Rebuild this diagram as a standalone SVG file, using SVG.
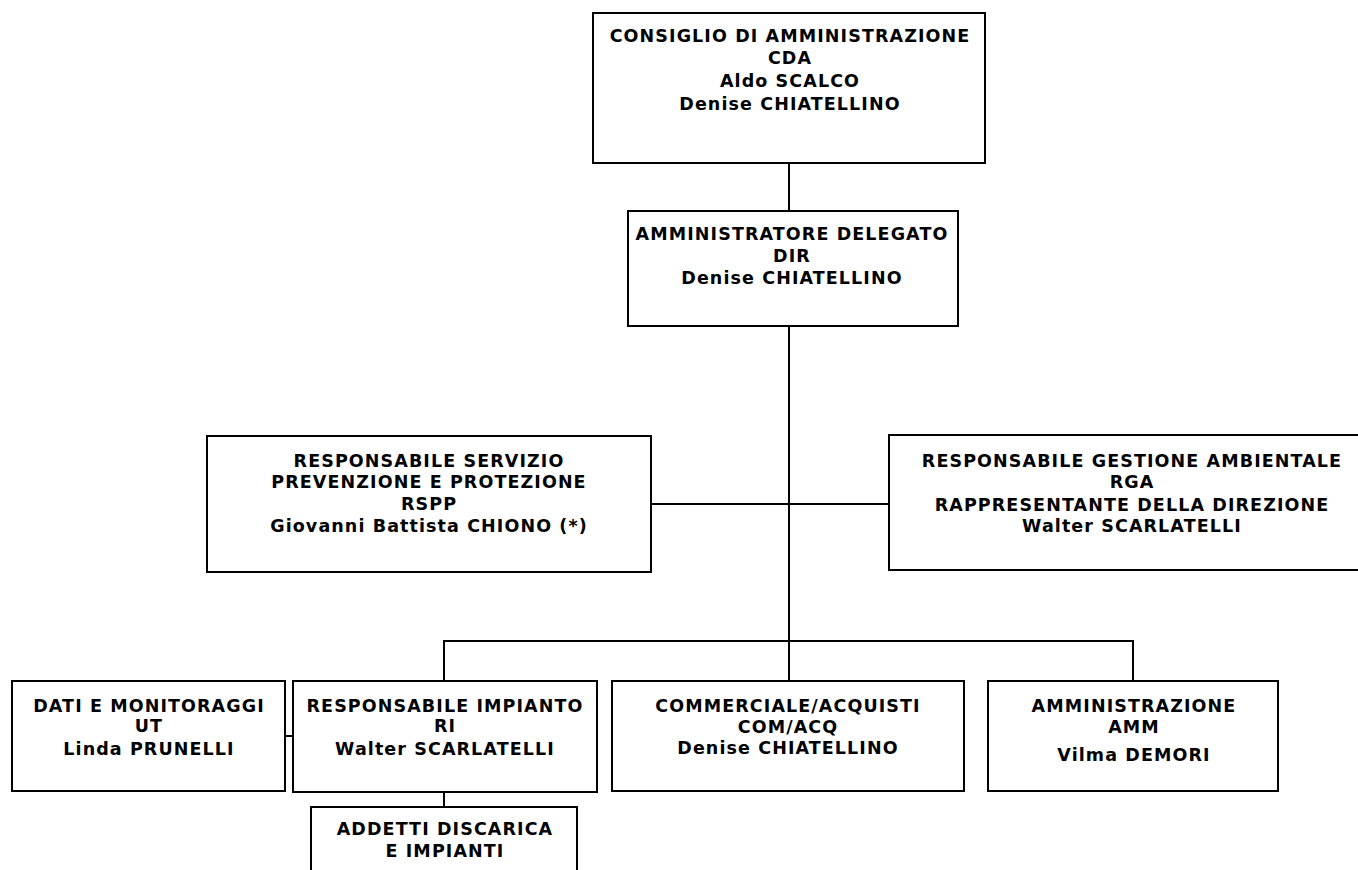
<svg xmlns="http://www.w3.org/2000/svg" width="1358" height="870" viewBox="0 0 1358 870">
<style>
.box{fill:#fff;stroke:#000;stroke-width:2}
.ln{fill:none;stroke:#000;stroke-width:2}
text{font-family:"DejaVu Sans",Verdana,sans-serif;font-weight:bold;font-size:17.5px;letter-spacing:1.1px;text-anchor:middle;fill:#000}
</style>
<rect width="1358" height="870" fill="#fff"/>
<g id="connectors">
<line class="ln" x1="789" y1="163" x2="789" y2="211"/>
<line class="ln" x1="789" y1="326" x2="789" y2="681"/>
<line class="ln" x1="651" y1="504" x2="889" y2="504"/>
<polyline class="ln" points="444,681 444,641 1133,641 1133,681"/>
<line class="ln" x1="285" y1="736" x2="293" y2="736"/>
<line class="ln" x1="444" y1="792" x2="444" y2="807"/>
</g>
<g id="cda">
<rect class="box" x="593" y="13" width="392" height="150"/>
<text x="790" y="42">CONSIGLIO DI AMMINISTRAZIONE</text>
<text x="790" y="64">CDA</text>
<text x="790" y="87">Aldo SCALCO</text>
<text x="790" y="110">Denise CHIATELLINO</text>
</g>
<g id="ad">
<rect class="box" x="628" y="211" width="330" height="115"/>
<text x="792" y="240">AMMINISTRATORE DELEGATO</text>
<text x="792" y="262">DIR</text>
<text x="792" y="284">Denise CHIATELLINO</text>
</g>
<g id="rspp">
<rect class="box" x="207" y="436" width="444" height="136"/>
<text x="429" y="467">RESPONSABILE SERVIZIO</text>
<text x="429" y="488">PREVENZIONE E PROTEZIONE</text>
<text x="429" y="510">RSPP</text>
<text x="429" y="532">Giovanni Battista CHIONO (*)</text>
</g>
<g id="rga">
<rect class="box" x="889" y="435" width="485" height="135"/>
<text x="1132" y="467">RESPONSABILE GESTIONE AMBIENTALE</text>
<text x="1132" y="488">RGA</text>
<text x="1132" y="511">RAPPRESENTANTE DELLA DIREZIONE</text>
<text x="1132" y="532">Walter SCARLATELLI</text>
</g>
<g id="dati">
<rect class="box" x="12" y="681" width="273" height="110"/>
<text x="149" y="712">DATI E MONITORAGGI</text>
<text x="149" y="732">UT</text>
<text x="149" y="755">Linda PRUNELLI</text>
</g>
<g id="ri">
<rect class="box" x="293" y="681" width="304" height="111"/>
<text x="445" y="712">RESPONSABILE IMPIANTO</text>
<text x="445" y="732">RI</text>
<text x="445" y="755">Walter SCARLATELLI</text>
</g>
<g id="com">
<rect class="box" x="612" y="681" width="352" height="110"/>
<text x="788" y="712">COMMERCIALE/ACQUISTI</text>
<text x="788" y="733">COM/ACQ</text>
<text x="788" y="754">Denise CHIATELLINO</text>
</g>
<g id="amm">
<rect class="box" x="988" y="681" width="290" height="110"/>
<text x="1134" y="712">AMMINISTRAZIONE</text>
<text x="1134" y="733">AMM</text>
<text x="1134" y="761">Vilma DEMORI</text>
</g>
<g id="addetti">
<rect class="box" x="311" y="807" width="266" height="80"/>
<text x="445" y="835">ADDETTI DISCARICA</text>
<text x="445" y="857">E IMPIANTI</text>
</g>
</svg>
